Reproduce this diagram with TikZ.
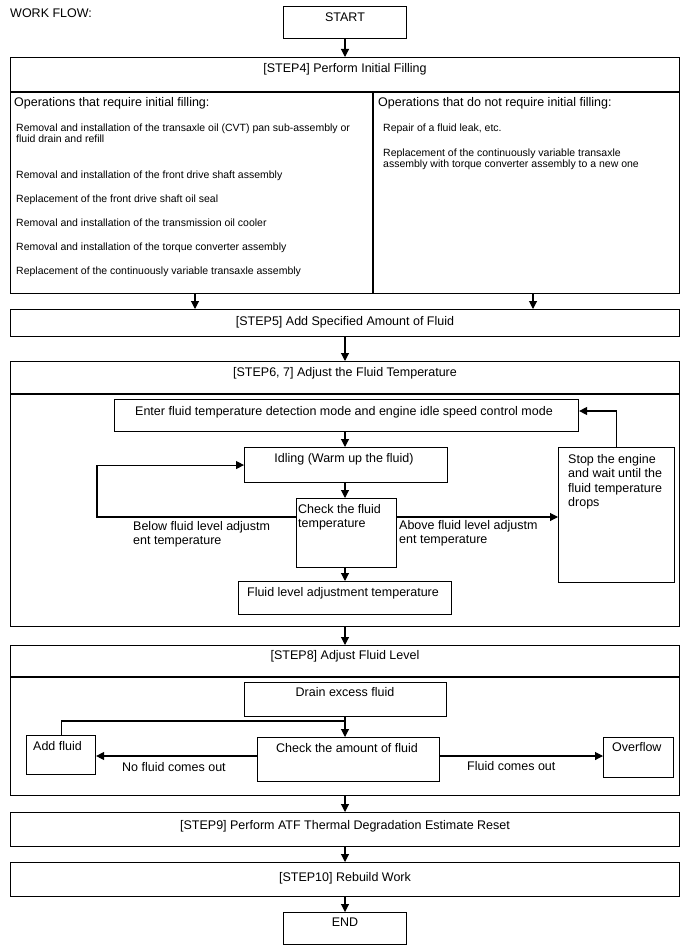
\documentclass[tikz,border=0pt]{standalone}
\usepackage{fontspec}
\setmainfont{Liberation Sans}
\usetikzlibrary{arrows.meta}
\newcommand\bbox[5]{\node[bx,anchor=north west,minimum width={#4pt-#2pt},minimum height={#5pt-#3pt}] (#1) at (#2,#3) {};}
\begin{document}
\begin{tikzpicture}[x=1pt,y=-1pt,
  bx/.style={draw, line width=1.1pt, inner sep=0pt, rectangle},
  ln/.style={line width=1.1pt},
  arr/.style={line width=1.1pt, -{Triangle[length=8pt,width=8pt]}},
  big/.style={inner sep=0pt, font=\fontsize{12.5}{14.2}\selectfont, align=left},
  small/.style={inner sep=0pt, font=\fontsize{10.5}{11.5}\selectfont, align=left}]
\useasboundingbox (0,0) rectangle (688,949);
% boxes
\bbox{start}{283}{6}{406}{38}
\bbox{step4}{10}{57}{679}{293}
\bbox{step5}{10}{309}{679}{336}
\bbox{step67}{10}{361}{679}{626}
\bbox{enter}{114}{399}{578}{431}
\bbox{idle}{244}{447}{447}{482}
\bbox{check}{296}{498}{396}{567}
\bbox{stop}{558}{447}{674}{582}
\bbox{flt}{238}{581}{451}{614}
\bbox{step8}{10}{645}{679}{795}
\bbox{drain}{244}{682}{446}{716}
\bbox{chkamt}{257}{737}{439}{781}
\bbox{add}{26}{735}{95}{774}
\bbox{over}{603}{737}{673}{777}
\bbox{step9}{10}{812}{679}{846}
\bbox{step10}{10}{862}{679}{896}
\bbox{end}{283}{912}{406}{944}
% helper coordinates
\coordinate (cx) at (345,0);
\coordinate (lc) at (195,0);
\coordinate (rc) at (533,0);
\coordinate (d4) at (0,92);
\coordinate (vd) at (373,0);
\coordinate (d67) at (0,394);
\coordinate (d8) at (0,677);
\coordinate (ly) at (0,517);
\coordinate (lx) at (97,0);
\coordinate (ey) at (0,411);
\coordinate (jy) at (0,721);
\coordinate (ay) at (0,756);
% dividers
\draw[ln] (step4.west |- d4) -- (step4.east |- d4);
\draw[ln] (vd |- d4) -- (vd |- step4.south);
\draw[ln] (step67.west |- d67) -- (step67.east |- d67);
\draw[ln] (step8.west |- d8) -- (step8.east |- d8);
% texts
\node[big, anchor=base west] (wf) at (10,17.5) {WORK FLOW:};
\node[big, anchor=base] (tstart) at (345,21.5) {START};
\node[big, anchor=base] (t4) at (345,72.5) {[STEP4] Perform Initial Filling};
\node[big, anchor=base west] (tl) at (14,106.5) {Operations that require initial filling:};
\node[small, anchor=north west] (i1) at (16,123.2) {Removal and installation of the transaxle oil (CVT) pan sub-assembly or\\fluid drain and refill};
\node[small, anchor=base west] (i2) at (16,178.8) {Removal and installation of the front drive shaft assembly};
\node[small, anchor=base west] (i3) at (16,202.8) {Replacement of the front drive shaft oil seal};
\node[small, anchor=base west] (i4) at (16,226.8) {Removal and installation of the transmission oil cooler};
\node[small, anchor=base west] (i5) at (16,250.8) {Removal and installation of the torque converter assembly};
\node[small, anchor=base west] (i6) at (16,274.8) {Replacement of the continuously variable transaxle assembly};
\node[big, anchor=base west] (tr) at (378,106.5) {Operations that do not require initial filling:};
\node[small, anchor=base west] (r1) at (383,131.8) {Repair of a fluid leak, etc.};
\node[small, anchor=north west] (r2) at (383,148.2) {Replacement of the continuously variable transaxle\\assembly with torque converter assembly to a new one};
\node[big, anchor=base] (t5) at (345,325.5) {[STEP5] Add Specified Amount of Fluid};
\node[big, anchor=base] (t67) at (345,376.5) {[STEP6, 7] Adjust the Fluid Temperature};
\node[big, anchor=base] (tenter) at (344,415) {Enter fluid temperature detection mode and engine idle speed control mode};
\node[big, anchor=base] (tidle) at (344,462) {Idling (Warm up the fluid)};
\node[big, anchor=north west] (tcheck) at (298,503.8) {Check the fluid\\temperature};
\node[big, anchor=north west] (tbelow) at (133,521.2) {Below fluid level adjustm\\ent temperature};
\node[big, anchor=north west] (tabove) at (399,519.8) {Above fluid level adjustm\\ent temperature};
\node[big, anchor=north west] (tstop) at (568,454.5) {Stop the engine\\and wait until the\\fluid temperature\\drops};
\node[big, anchor=base] (tflt) at (343,596) {Fluid level adjustment temperature};
\node[big, anchor=base] (t8) at (345,659.5) {[STEP8] Adjust Fluid Level};
\node[big, anchor=base] (tdrain) at (345,696) {Drain excess fluid};
\node[big, anchor=base] (tchk) at (347,752) {Check the amount of fluid};
\node[big, anchor=base west] (tadd) at (33,750.5) {Add fluid};
\node[big, anchor=base west] (tover) at (612,751.5) {Overflow};
\node[big, anchor=base west] (tno) at (122,771.5) {No fluid comes out};
\node[big, anchor=base west] (tyes) at (467,770.5) {Fluid comes out};
\node[big, anchor=base] (t9) at (345,829.5) {[STEP9] Perform ATF Thermal Degradation Estimate Reset};
\node[big, anchor=base] (t10) at (345,881.5) {[STEP10] Rebuild Work};
\node[big, anchor=base] (tend) at (345,926.5) {END};
% connectors
\draw[arr] (start.south -| cx) -- (step4.north -| cx);
\draw[arr] (step4.south -| lc) -- (step5.north -| lc);
\draw[arr] (step4.south -| rc) -- (step5.north -| rc);
\draw[arr] (step5.south -| cx) -- (step67.north -| cx);
\draw[arr] (enter.south -| cx) -- (idle.north -| cx);
\draw[arr] (idle.south -| cx) -- (check.north -| cx);
\draw[arr] (check.west |- ly) -| (idle.west -| lx) -- (idle.west);
\draw[arr] (check.east |- ly) -- (stop.west |- ly);
\draw[arr] (stop.north) |- (enter.east |- ey);
\draw[arr] (check.south -| cx) -- (flt.north -| cx);
\draw[arr] (step67.south -| cx) -- (step8.north -| cx);
\draw[arr] (drain.south -| cx) -- (chkamt.north -| cx);
\draw[ln] (cx |- jy) -| (add.north);
\draw[arr] (chkamt.west |- ay) -- (add.east |- ay);
\draw[arr] (chkamt.east |- ay) -- (over.west |- ay);
\draw[arr] (step8.south -| cx) -- (step9.north -| cx);
\draw[arr] (step9.south -| cx) -- (step10.north -| cx);
\draw[arr] (step10.south -| cx) -- (end.north -| cx);
\end{tikzpicture}
\end{document}
